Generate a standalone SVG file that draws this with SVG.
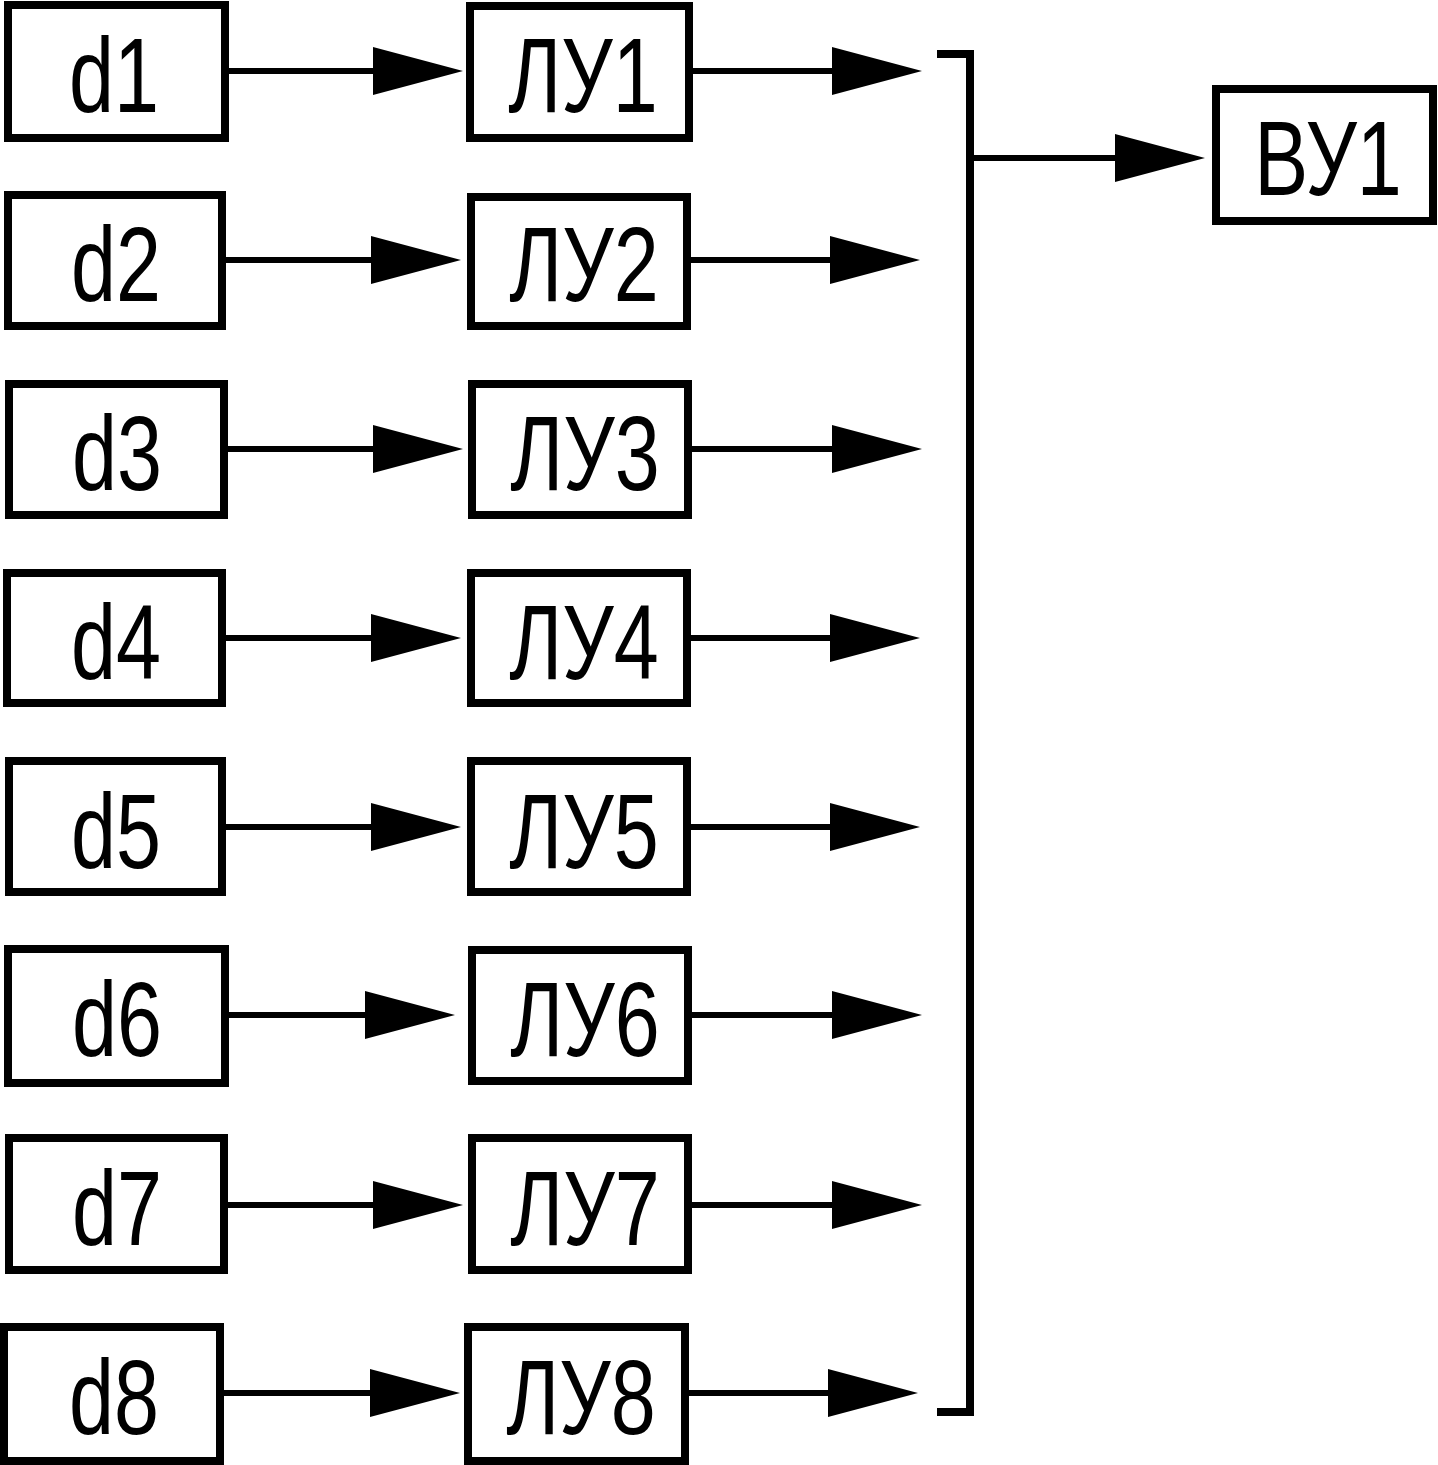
<svg xmlns="http://www.w3.org/2000/svg" width="1438" height="1465" viewBox="0 0 1438 1465">
<style>
.box{fill:#fff;stroke:#000;stroke-width:8}
.lbl{font-family:"Liberation Sans",Arial,sans-serif;font-size:105px;fill:#000;text-anchor:middle}
.wire{fill:none;stroke:#000;stroke-width:6}
.bus{fill:none;stroke:#000;stroke-width:8}
</style>
<defs>
<marker id="ah" markerUnits="userSpaceOnUse" markerWidth="90" markerHeight="48" refX="78" refY="24" orient="auto" viewBox="0 0 90 48">
<path d="M0,0 L90,24 L0,48 Z" fill="#000"/>
</marker>
</defs>
<rect width="1438" height="1465" fill="#fff"/>
<g id="connectors">
<path class="wire" d="M229,71 H451" marker-end="url(#ah)"/>
<path class="wire" d="M693,71 H910" marker-end="url(#ah)"/>
<path class="wire" d="M226,260 H449" marker-end="url(#ah)"/>
<path class="wire" d="M691,260 H908" marker-end="url(#ah)"/>
<path class="wire" d="M228,449 H451" marker-end="url(#ah)"/>
<path class="wire" d="M692,449 H910" marker-end="url(#ah)"/>
<path class="wire" d="M226,638 H449" marker-end="url(#ah)"/>
<path class="wire" d="M691,638 H908" marker-end="url(#ah)"/>
<path class="wire" d="M226,827 H449" marker-end="url(#ah)"/>
<path class="wire" d="M691,827 H908" marker-end="url(#ah)"/>
<path class="wire" d="M219,1015 H443" marker-end="url(#ah)"/>
<path class="wire" d="M692,1015 H910" marker-end="url(#ah)"/>
<path class="wire" d="M228,1205 H451" marker-end="url(#ah)"/>
<path class="wire" d="M692,1205 H910" marker-end="url(#ah)"/>
<path class="wire" d="M224,1393 H448" marker-end="url(#ah)"/>
<path class="wire" d="M689,1393 H906" marker-end="url(#ah)"/>
<path class="bus" d="M937,54 H970 V1412 H937"/>
<path class="wire" d="M970,158 H1193" marker-end="url(#ah)"/>
</g>
<g id="d1"><rect class="box" x="8" y="5" width="217" height="133"/><text class="lbl" transform="translate(114,112) scale(0.77,1)">d1</text></g>
<g id="d2"><rect class="box" x="8" y="195" width="214" height="131"/><text class="lbl" transform="translate(116,301) scale(0.77,1)">d2</text></g>
<g id="d3"><rect class="box" x="9" y="384" width="215" height="131"/><text class="lbl" transform="translate(117,490) scale(0.77,1)">d3</text></g>
<g id="d4"><rect class="box" x="7" y="573" width="215" height="130"/><text class="lbl" transform="translate(116,679) scale(0.77,1)">d4</text></g>
<g id="d5"><rect class="box" x="9" y="761" width="213" height="131"/><text class="lbl" transform="translate(116,868) scale(0.77,1)">d5</text></g>
<g id="d6"><rect class="box" x="8" y="949" width="217" height="134"/><text class="lbl" transform="translate(117,1056) scale(0.77,1)">d6</text></g>
<g id="d7"><rect class="box" x="9" y="1138" width="215" height="132"/><text class="lbl" transform="translate(117,1245) scale(0.77,1)">d7</text></g>
<g id="d8"><rect class="box" x="4" y="1327" width="216" height="134"/><text class="lbl" transform="translate(114,1434) scale(0.77,1)">d8</text></g>
<g id="LU1"><rect class="box" x="470" y="6" width="219" height="132"/><text class="lbl" transform="translate(583,112) scale(0.77,1)">ЛУ1</text></g>
<g id="LU2"><rect class="box" x="471" y="197" width="216" height="129"/><text class="lbl" transform="translate(584,301) scale(0.77,1)">ЛУ2</text></g>
<g id="LU3"><rect class="box" x="472" y="384" width="216" height="131"/><text class="lbl" transform="translate(585,490) scale(0.77,1)">ЛУ3</text></g>
<g id="LU4"><rect class="box" x="471" y="573" width="216" height="130"/><text class="lbl" transform="translate(584,679) scale(0.77,1)">ЛУ4</text></g>
<g id="LU5"><rect class="box" x="471" y="761" width="216" height="131"/><text class="lbl" transform="translate(584,868) scale(0.77,1)">ЛУ5</text></g>
<g id="LU6"><rect class="box" x="472" y="950" width="216" height="131"/><text class="lbl" transform="translate(585,1056) scale(0.77,1)">ЛУ6</text></g>
<g id="LU7"><rect class="box" x="472" y="1138" width="216" height="132"/><text class="lbl" transform="translate(585,1245) scale(0.77,1)">ЛУ7</text></g>
<g id="LU8"><rect class="box" x="468" y="1327" width="217" height="134"/><text class="lbl" transform="translate(581,1434) scale(0.77,1)">ЛУ8</text></g>
<g id="VU1"><rect class="box" x="1216" y="89" width="217" height="132"/><text class="lbl" transform="translate(1328,195) scale(0.77,1)">ВУ1</text></g>
</svg>
